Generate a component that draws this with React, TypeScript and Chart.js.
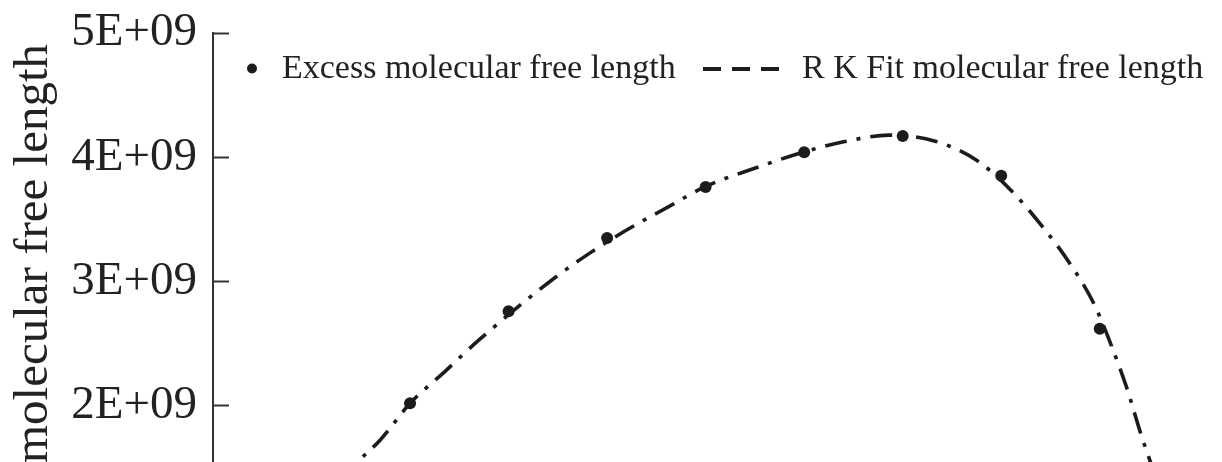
import React, { useEffect, useRef } from 'react';
import { Chart, registerables } from 'chart.js';

Chart.register(...registerables);

// ---- data ----
const moleFraction = [0.1, 0.2, 0.3, 0.4, 0.5, 0.6, 0.7, 0.8];
const excessFreeLength = [2.02e9, 2.76e9, 3.35e9, 3.76e9, 4.04e9, 4.17e9, 3.85e9, 2.62e9];

const fitX = [0.03, 0.045, 0.07, 0.1, 0.135, 0.17, 0.243, 0.282, 0.322, 0.363, 0.4, 0.449, 0.5, 0.54, 0.586, 0.633, 0.675, 0.71, 0.741, 0.77, 0.794, 0.812, 0.828, 0.842, 0.852, 0.862];
const fitY = [1.4e9, 1.534e9, 1.726e9, 2.019e9, 2.272e9, 2.529e9, 3.006e9, 3.226e9, 3.424e9, 3.604e9, 3.765e9, 3.909e9, 4.043e9, 4.124e9, 4.178e9, 4.129e9, 3.976e9, 3.733e9, 3.45e9, 3.141e9, 2.822e9, 2.48e9, 2.13e9, 1.766e9, 1.534e9, 1.3e9];

const yTickValues = [2e9, 3e9, 4e9, 5e9];
const yTickLabels = ['2E+09', '3E+09', '4E+09', '5E+09'];
const seriesLabels = ['Excess molecular free length', 'R K Fit molecular free length'];
const yAxisTitle = 'molecular free length';

const SERIF = '"Liberation Serif", "Times New Roman", serif';
const INK = '#222222';

const insideLegend = {
  id: 'insideLegend',
  afterDraw(chart: any) {
    const ctx = chart.ctx as CanvasRenderingContext2D;
    const ds = chart.data.datasets;
    ctx.save();
    ctx.font = `34px ${SERIF}`;
    ctx.fillStyle = INK;
    ctx.textBaseline = 'alphabetic';
    ctx.textAlign = 'left';
    // item 1: dot marker
    ctx.beginPath();
    ctx.arc(252, 68.5, 5, 0, Math.PI * 2);
    ctx.fillStyle = '#1c1c1c';
    ctx.fill();
    ctx.fillStyle = INK;
    ctx.fillText(ds[0].label, 282, 78);
    // item 2: dashed line
    ctx.beginPath();
    ctx.setLineDash([18, 11]);
    ctx.lineWidth = 4;
    ctx.strokeStyle = '#1c1c1c';
    ctx.moveTo(703, 69);
    ctx.lineTo(779, 69);
    ctx.stroke();
    ctx.setLineDash([]);
    ctx.fillText(ds[1].label, 802, 78);
    ctx.restore();
  },
};

export default function App() {
  const ref = useRef<HTMLCanvasElement | null>(null);

  useEffect(() => {
    if (!ref.current) return;
    const chart = new Chart(ref.current, {
      type: 'scatter',
      data: {
        datasets: [
          {
            label: seriesLabels[0],
            data: moleFraction.map((x, i) => ({ x, y: excessFreeLength[i] })),
            pointRadius: 6,
            pointBackgroundColor: '#1c1c1c',
            pointBorderWidth: 0,
            showLine: false,
          },
          {
            label: seriesLabels[1],
            data: fitX.map((x, i) => ({ x, y: fitY[i] })),
            showLine: true,
            pointRadius: 0,
            borderColor: '#1c1c1c',
            borderWidth: 3.6,
            borderDash: [22, 10, 4, 10],
            cubicInterpolationMode: 'monotone',
            fill: false,
          } as any,
        ],
      },
      options: {
        animation: false,
        responsive: false,
        devicePixelRatio: 1,
        layout: { padding: { top: 33, left: 0, right: 0, bottom: 0 } },
        plugins: {
          legend: { display: false },
          tooltip: { enabled: false },
        },
        scales: {
          x: {
            type: 'linear',
            display: false,
            min: -0.1,
            max: 0.918,
          },
          y: {
            type: 'linear',
            position: 'left',
            min: 1.45e9,
            max: 5e9,
            afterFit: (scale: any) => {
              scale.width = 213;
              scale.paddingTop = 0;
              scale.paddingBottom = 0;
              scale.paddingLeft = 0;
              scale.paddingRight = 0;
            },
            afterBuildTicks: (scale: any) => {
              scale.ticks = yTickValues.map((value) => ({ value }));
            },
            border: { display: true, color: '#333333', width: 2 },
            grid: {
              drawOnChartArea: false,
              drawTicks: true,
              tickLength: -16,
              tickWidth: 2,
              color: '#333333',
            },
            ticks: {
              padding: 32,
              color: INK,
              font: { family: SERIF, size: 47 },
              callback: (value: any) => {
                const i = yTickValues.indexOf(Number(value));
                return i >= 0 ? yTickLabels[i] : '';
              },
            },
            title: {
              display: true,
              text: yAxisTitle,
              color: INK,
              font: { family: SERIF, size: 49 },
              padding: { top: 5, bottom: 0 },
            },
          },
        },
      },
      plugins: [insideLegend],
    });
    return () => chart.destroy();
  }, []);

  return (
    <div
      style={{
        position: 'fixed',
        left: 0,
        top: 0,
        width: 1222,
        height: 462,
        overflow: 'hidden',
        background: '#ffffff',
      }}
    >
      <canvas ref={ref} width={1222} height={480} style={{ display: 'block', width: 1222, height: 480 }} />
    </div>
  );
}
